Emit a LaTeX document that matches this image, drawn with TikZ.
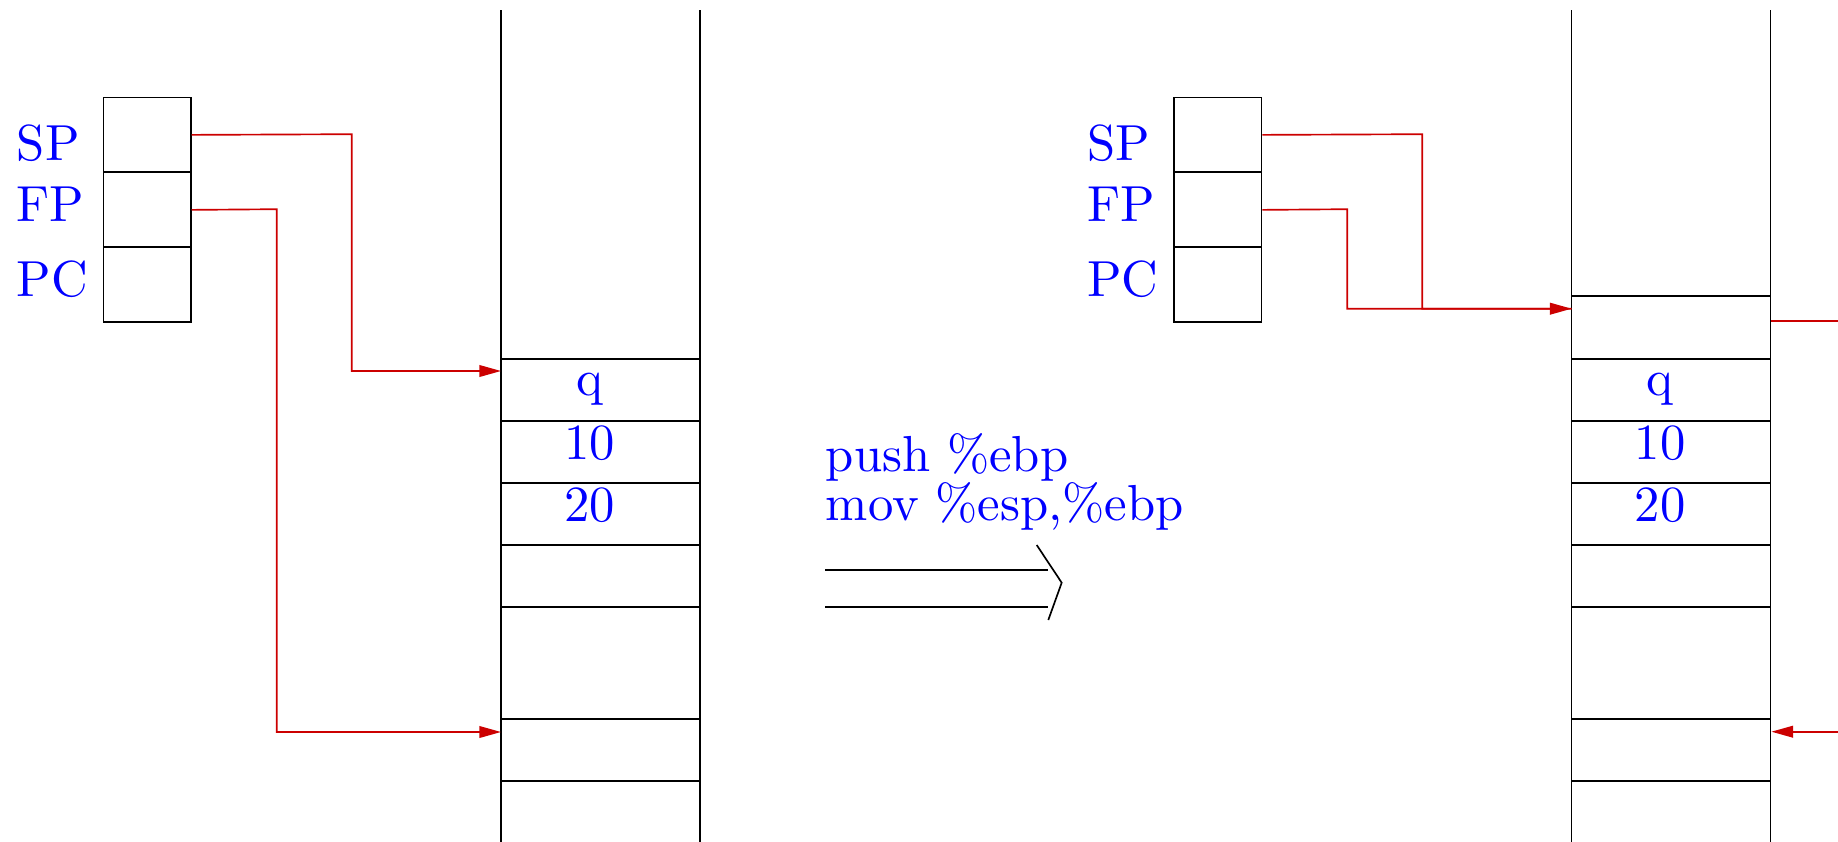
\documentclass[tikz,border=0pt]{standalone}
\usetikzlibrary{arrows.meta}
\definecolor{arrred}{RGB}{204,0,0}
\font\lblrm="[lmroman10-regular]:mapping=tex-text" at 15.2pt
\begin{document}
\begin{tikzpicture}[x=0.3pt,y=-0.3pt,
  line width=0.5pt,
  lbl/.style={text=blue,inner sep=0pt,font=\lblrm},
  reg/.style={draw,minimum width=26.2pt,minimum height=22.4pt,inner sep=0pt,anchor=north west},
  ptr/.style={draw=arrred,-{Triangle[length=6.5pt,width=3.5pt]}},
  wire/.style={draw=arrred}]
\path[use as bounding box] (0,0) rectangle (1838,842);
\clip (0,0) rectangle (1838,842);

% ---------------- left half ----------------
\node[reg] (spL) at (102.7,96.7) {};
\node[reg] (fpL) at (102.7,171.7) {};
\node[reg] (pcL) at (102.7,246.3) {};
\node[lbl,anchor=base west] (spLt) at (16,160) {SP};
\node[lbl,anchor=base west] (fpLt) at (16,221.7) {FP};
\node[lbl,anchor=base west] (pcLt) at (16,296.7) {PC};

\draw (501,10) -- (501,842);
\draw (700,10) -- (700,842);
\foreach \yy in {359,421,483,545,607,719,781} \draw (501,\yy) -- (700,\yy);
\node[lbl,anchor=base] (qL) at (589.5,395) {q};
\node[lbl,anchor=base] (tenL) at (589.5,459) {10};
\node[lbl,anchor=base] (twentyL) at (589.5,521.7) {20};

\coordinate (spTL) at (501,371);
\coordinate (fpTL) at (501,732);
\draw[ptr] (spL.east) -- (351.7,134.2) |- (spTL);
\draw[ptr] (fpL.east) -- (276.7,209.2) |- (fpTL);

% ---------------- middle ----------------
\node[lbl,anchor=base west] (i1) at (825,471.7) {push \%ebp};
\node[lbl,anchor=base west] (i2) at (825,520) {mov \%esp,\%ebp};
\draw (825,570) -- (1048.3,570);
\draw (825,607.3) -- (1048.3,607.3);
\draw (1036.7,545) -- (1061.7,582.7) -- (1048.3,620);

% ---------------- right half ----------------
\begin{scope}[xshift=1070.6*0.3pt]
\node[reg] (spR) at (102.7,96.7) {};
\node[reg] (fpR) at (102.7,171.7) {};
\node[reg] (pcR) at (102.7,246.3) {};
\node[lbl,anchor=base west] (spRt) at (16,160) {SP};
\node[lbl,anchor=base west] (fpRt) at (16,221.7) {FP};
\node[lbl,anchor=base west] (pcRt) at (16,296.7) {PC};

\draw (501,10) -- (501,842);
\draw (700,10) -- (700,842);
\foreach \yy in {296,359,421,483,545,607,719,781} \draw (501,\yy) -- (700,\yy);
\node[lbl,anchor=base] (qR) at (589.5,395) {q};
\node[lbl,anchor=base] (tenR) at (589.5,459) {10};
\node[lbl,anchor=base] (twentyR) at (589.5,521.7) {20};

\coordinate (spTR) at (501,308.7);
\draw[wire] (fpR.east) -- (276.7,209.2) |- (spTR);
\draw[ptr] (spR.east) -- (351.7,134.2) |- (spTR);

\coordinate (outR) at (700,321);
\coordinate (edgeA) at (780,321);
\draw[wire] (outR) -- (edgeA);
\coordinate (inR) at (700.8,731.7);
\coordinate (edgeB) at (780,731.7);
\draw[ptr] (edgeB) -- (inR);
\end{scope}
\end{tikzpicture}
\end{document}
